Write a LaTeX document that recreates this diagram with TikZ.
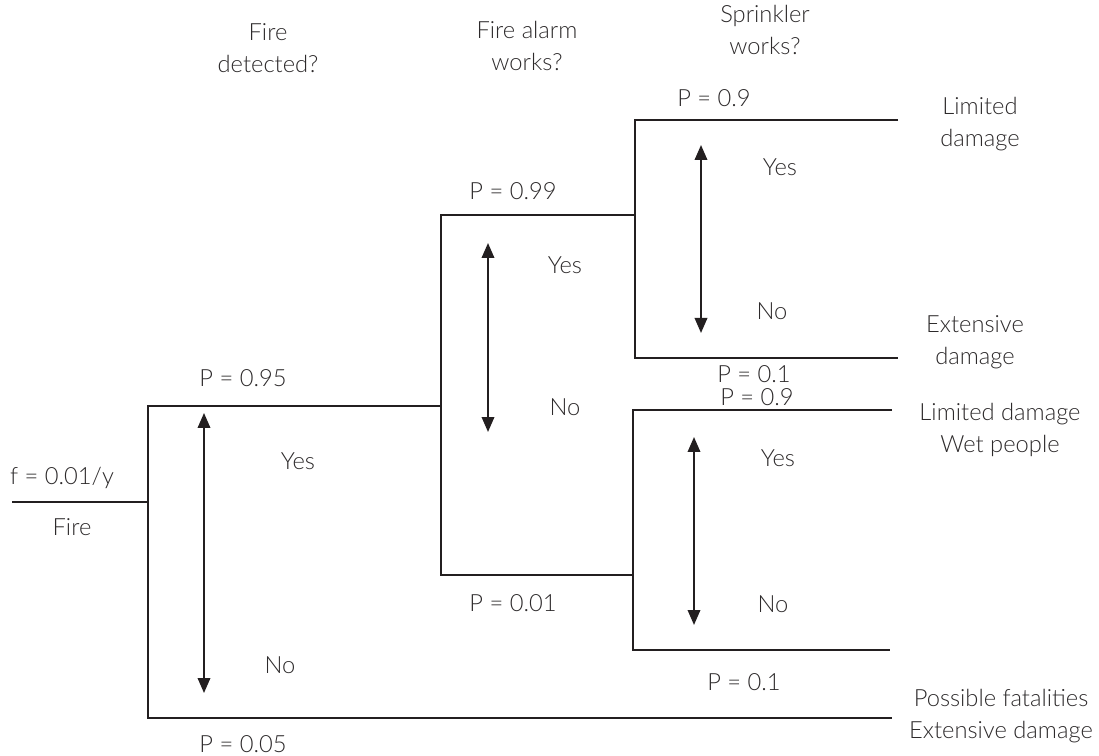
\documentclass[tikz,border=0pt]{standalone}
\usepackage{fontspec}
\setmainfont{Lato Light}
\usepackage{tikz}
\usetikzlibrary{arrows.meta}
\definecolor{ink}{RGB}{35,31,32}
\definecolor{txt}{RGB}{45,42,43}

\begin{document}
\begin{tikzpicture}[
  x=0.02cm,y=-0.02cm,
  branch/.style={draw=ink, line width=1.1pt, line join=miter},
  choice/.style={draw=ink, line width=1.1pt, {Triangle[length=3mm,width=2.5mm]}-{Triangle[length=3mm,width=2.5mm]}},
  lbl/.style={text=txt, align=center, inner sep=0pt, font=\fontsize{13.5}{18.5}\selectfont}
]
\useasboundingbox (0,0) rectangle (1099,756);

% tree corners
\coordinate (fire) at (12,502);
\coordinate (d0) at (148,502);
\coordinate (dY) at (148,406);
\coordinate (dN) at (148,718);
\coordinate (endN) at (892,718);
\coordinate (aMid) at (441,406);
\coordinate (aY) at (441,215);
\coordinate (aN) at (441,575);
\coordinate (s1) at (635,215);
\coordinate (s1Y) at (635,120);
\coordinate (s1N) at (635,358);
\coordinate (e1) at (898,120);
\coordinate (e2) at (898,358);
\coordinate (s2) at (633,575);
\coordinate (s2Y) at (633,410);
\coordinate (s2N) at (633,650);
\coordinate (e3) at (892,410);
\coordinate (e4) at (890,650);

\draw[branch] (fire) -- (d0);
\draw[branch] (aMid) -- (dY) -- (dN) -- (endN);
\draw[branch] (s1) -- (aY) -- (aN) -- (s2);
\draw[branch] (e1) -- (s1Y) -- (s1N) -- (e2);
\draw[branch] (e3) -- (s2Y) -- (s2N) -- (e4);

% yes/no arrows
\coordinate (q1a) at (204,413); \coordinate (q1b) at (204,693);
\coordinate (q2a) at (488,243); \coordinate (q2b) at (488,432);
\coordinate (q3a) at (701,145); \coordinate (q3b) at (701,333);
\coordinate (q4a) at (694,437); \coordinate (q4b) at (694,625);
\draw[choice] (q1a) -- (q1b);
\draw[choice] (q2a) -- (q2b);
\draw[choice] (q3a) -- (q3b);
\draw[choice] (q4a) -- (q4b);

% headings
\node[lbl] (hDet) at (268,48) {Fire\\detected?};
\node[lbl] (hAlarm) at (527,46) {Fire alarm\\works?};
\node[lbl] (hSprk) at (765,30) {Sprinkler\\works?};

% start event
\node[lbl] (freq) at (62,478) {f = 0.01/y};
\node[lbl] (fireLbl) at (72,527) {Fire};

% probabilities
\node[lbl] (p95) at (243,378) {P = 0.95};
\node[lbl] (p05) at (243,744) {P = 0.05};
\node[lbl] (p99) at (513,191) {P = 0.99};
\node[lbl] (p01) at (513,603) {P = 0.01};
\node[lbl] (p9a) at (714,98) {P = 0.9};
\node[lbl] (p1a) at (754,374) {P = 0.1};
\node[lbl] (p9b) at (757,397) {P = 0.9};
\node[lbl] (p1b) at (744,682) {P = 0.1};

% yes/no labels
\node[lbl] (y1) at (298,461) {Yes};
\node[lbl] (n1) at (280,665) {No};
\node[lbl] (y2) at (565,265) {Yes};
\node[lbl] (n2) at (565,407) {No};
\node[lbl] (y3) at (780,167) {Yes};
\node[lbl] (n3) at (772,311) {No};
\node[lbl] (y4) at (778,458) {Yes};
\node[lbl] (n4) at (773,604) {No};

% outcomes
\node[lbl] (o1) at (980,124) {Limited\\damage};
\node[lbl] (o2) at (975,342) {Extensive\\damage};
\node[lbl] (o3) at (1000,430) {Limited damage\\Wet people};
\node[lbl] (o4) at (1001,716) {Possible fatalities\\Extensive damage};
\end{tikzpicture}
\end{document}
